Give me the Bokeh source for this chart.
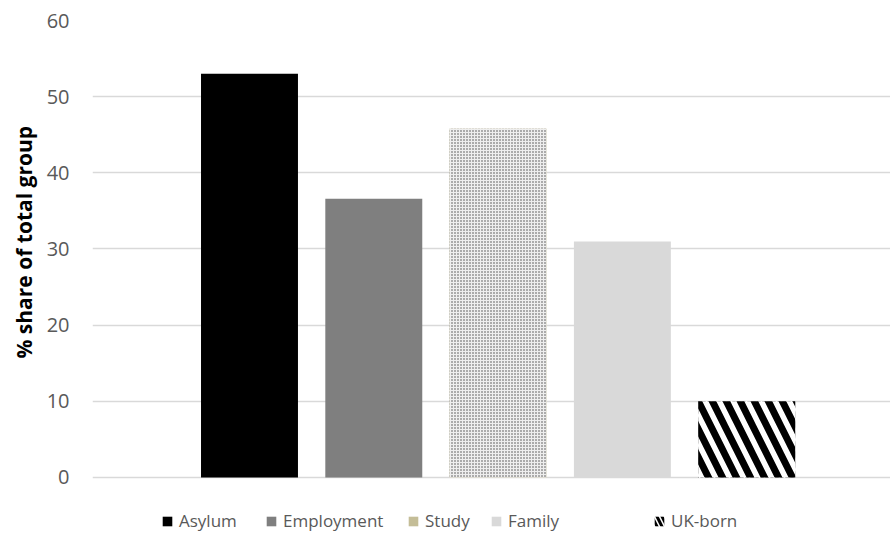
from bokeh.plotting import figure
from bokeh.models import Range1d, Legend, LegendItem, Title
from bokeh.embed import file_html
from bokeh.resources import INLINE

# ---- data ----
categories = ["Asylum", "Employment", "Study", "Family", "UK-born"]
values = [53.0, 36.6, 45.8, 31.0, 10.0]
y_ticks = [0, 10, 20, 30, 40, 50, 60]
y_label = "% share of total group"

# ---- styles ----
bar_styles = [
    dict(fill_color="#000000"),
    dict(fill_color="#7f7f7f"),
    dict(fill_color="#eeeeee", hatch_pattern="dot", hatch_scale=3, hatch_weight=2, hatch_color="#444444"),
    dict(fill_color="#d9d9d9"),
    dict(fill_color="#ffffff", hatch_pattern="\\", hatch_scale=28, hatch_weight=7, hatch_color="#000000"),
]
legend_styles = [
    None,
    None,
    dict(fill_color="#c4bd97"),
    None,
    dict(fill_color="#ffffff", hatch_pattern="\\", hatch_scale=10, hatch_weight=3, hatch_color="#000000"),
]
legend_offsets = [69, 173, 315, 398, 561]   # px from plot-area left edge

FONT = "Open Sans"

# frame runs to the bottom of the canvas so the legend row can live inside it
p = figure(width=890, height=542, output_backend="svg", toolbar_location=None,
           x_range=Range1d(-1.263, 5.157), y_range=Range1d(-8.534, 60),
           x_axis_location=None,
           min_border_left=92, min_border_right=0, min_border_top=20, min_border_bottom=0)
p.outline_line_color = None
p.xgrid.visible = False
p.ygrid.grid_line_color = "#d9d9d9"
p.ygrid.grid_line_width = 1.3
p.ygrid.ticker = y_ticks

p.yaxis.ticker = y_ticks
p.yaxis.axis_line_color = None
p.yaxis.major_tick_line_color = None
p.yaxis.minor_tick_line_color = None
p.yaxis.major_tick_out = 0
p.yaxis.major_label_standoff = 23
p.yaxis.major_label_text_font = FONT
p.yaxis.major_label_text_font_size = "20px"
p.yaxis.major_label_text_color = "#595959"

ylab = Title(text=y_label, text_font=FONT, text_font_style="bold", text_font_size="21px",
             text_color="#000000", align="left", offset=184, standoff=12)
p.add_layout(ylab, "left")

# legend-only swatches drawn underneath the real bars (hidden by them)
legend_renderers = {}
for i, cat in enumerate(categories):
    if legend_styles[i] is not None:
        legend_renderers[i] = p.vbar(x=[i], top=[values[i]], bottom=0, width=0.78,
                                     line_color=None, **legend_styles[i])

bars = []
for i, cat in enumerate(categories):
    bars.append(p.vbar(x=[i], top=[values[i]], bottom=0, width=0.78, line_color=None, **bar_styles[i]))

for i, cat in enumerate(categories):
    leg = Legend(items=[LegendItem(label=cat, renderers=[legend_renderers.get(i, bars[i])])],
                 location=(legend_offsets[i], 10), orientation="horizontal",
                 glyph_width=12, glyph_height=12, label_standoff=6,
                 padding=0, margin=0, border_line_color=None,
                 background_fill_alpha=0,
                 label_text_font=FONT, label_text_font_size="17px",
                 label_text_color="#595959")
    p.add_layout(leg)

open("out.html", "w").write(file_html(p, INLINE))
